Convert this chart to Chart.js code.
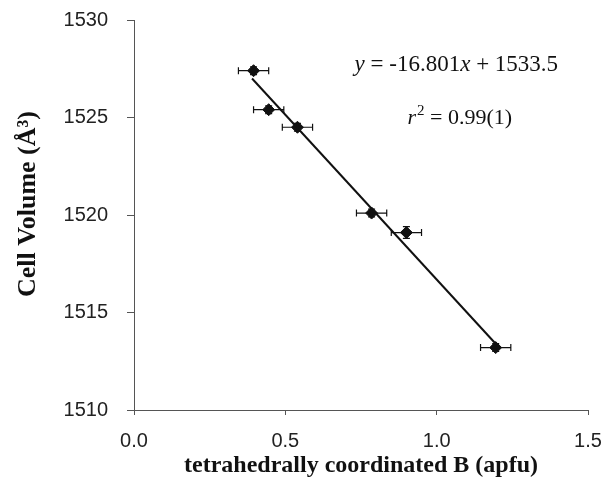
<!DOCTYPE html>
<html>
<head>
<meta charset="utf-8">
<script src="https://cdn.jsdelivr.net/npm/chart.js@4.4.1/dist/chart.umd.min.js"></script>
<style>
  html, body { margin: 0; padding: 0; background: #fff; }
  #wrap { width: 608px; height: 478px; }
</style>
</head>
<body>
<div id="wrap"><canvas id="chart" width="608" height="478"></canvas></div>
<script>
// values
const boronApfu = [0.395, 0.445, 0.54, 0.785, 0.90, 1.195];
const cellVolume = [1527.4, 1525.4, 1524.5, 1520.1, 1519.1, 1513.2];
const boronErr = [0.05, 0.05, 0.05, 0.05, 0.05, 0.05];
const volumeErr = [0.2, 0.2, 0.2, 0.2, 0.3, 0.2];

// regression line ends, as drawn
const fitX = [0.39, 1.195];
const fitY = [1527.0, 1513.4];

const xTicks = [0.0, 0.5, 1.0, 1.5];
const yTicks = [1510, 1515, 1520, 1525, 1530];

const eqText = [["y", true], [" = -16.801", false], ["x", true], [" + 1533.5", false]];

const ink = "#111";
const axisColor = "#555";

const pts = boronApfu.map((x, i) => ({ x: x, y: cellVolume[i] }));
const fitPts = fitX.map((x, i) => ({ x: x, y: fitY[i] }));

// whiskers for both directions
const errorBars = {
    id: "errorBars",
    afterDatasetsDraw(chart) {
        const { ctx, scales: { x, y } } = chart;
        ctx.save();
        ctx.strokeStyle = ink;
        ctx.lineWidth = 1.2;
        pts.forEach((p, i) => {
            const px = x.getPixelForValue(p.x);
            const py = y.getPixelForValue(p.y);
            const x0 = x.getPixelForValue(p.x - boronErr[i]);
            const x1 = x.getPixelForValue(p.x + boronErr[i]);
            const y0 = y.getPixelForValue(p.y - volumeErr[i]);
            const y1 = y.getPixelForValue(p.y + volumeErr[i]);
            ctx.beginPath();
            ctx.moveTo(x0, py); ctx.lineTo(x1, py);
            ctx.moveTo(x0, py - 3.5); ctx.lineTo(x0, py + 3.5);
            ctx.moveTo(x1, py - 3.5); ctx.lineTo(x1, py + 3.5);
            ctx.moveTo(px, y0); ctx.lineTo(px, y1);
            ctx.moveTo(px - 3.5, y0); ctx.lineTo(px + 3.5, y0);
            ctx.moveTo(px - 3.5, y1); ctx.lineTo(px + 3.5, y1);
            ctx.stroke();
        });
        ctx.restore();
    }
};

// fit equation, r squared and the rotated y title
const labels = {
    id: "labels",
    afterDraw(chart) {
        const { ctx, scales: { x, y } } = chart;
        ctx.save();
        ctx.fillStyle = ink;
        ctx.textBaseline = "middle";

        let size = 23;
        const fontOf = it => (it ? "italic " : "") + size + "px 'Liberation Serif'";
        let w = 0;
        eqText.forEach(([t, it]) => { ctx.font = fontOf(it); w += ctx.measureText(t).width; });
        let cx = x.getPixelForValue(1.065) - w / 2;
        const ey = y.getPixelForValue(1527.7);
        eqText.forEach(([t, it]) => {
            ctx.font = fontOf(it);
            ctx.fillText(t, cx, ey);
            cx += ctx.measureText(t).width;
        });

        size = 22;
        const ry = y.getPixelForValue(1524.95);
        ctx.font = fontOf(true);
        const wr = ctx.measureText("r").width;
        ctx.font = "15px 'Liberation Serif'";
        const w2 = ctx.measureText("2").width;
        ctx.font = fontOf(false);
        const wRest = ctx.measureText(" = 0.99(1)").width;
        let rx = x.getPixelForValue(1.075) - (wr + w2 + wRest) / 2;
        ctx.font = fontOf(true);
        ctx.fillText("r", rx, ry);
        rx += wr + 1;
        ctx.font = "15px 'Liberation Serif'";
        ctx.fillText("2", rx, ry - 7);
        rx += w2;
        ctx.font = fontOf(false);
        ctx.fillText(" = 0.99(1)", rx, ry);

        ctx.translate(28, 204);
        ctx.rotate(-Math.PI / 2);
        ctx.textAlign = "center";
        ctx.font = "bold 26px 'Liberation Serif'";
        ctx.fillText("Cell Volume (Å³)", 0, 0);
        ctx.restore();
    }
};

// no label overhang, the plot box comes from the layout padding alone
const noOverhang = s => {
    s.paddingTop = 0;
    s.paddingBottom = 0;
    s.paddingLeft = 0;
    s.paddingRight = 0;
};

new Chart(document.getElementById("chart"), {
    type: "scatter",
    data: {
        datasets: [
            {
                data: pts,
                pointStyle: "rectRot",
                pointRadius: 6,
                backgroundColor: ink,
                borderColor: ink,
                borderWidth: 1,
                order: 0
            },
            {
                type: "line",
                data: fitPts,
                borderColor: ink,
                borderWidth: 2,
                pointRadius: 0,
                fill: false,
                order: 1
            }
        ]
    },
    options: {
        responsive: false,
        animation: false,
        layout: { padding: { top: 20, right: 20, left: 0, bottom: 0 } },
        plugins: {
            legend: { display: false },
            tooltip: { enabled: false }
        },
        scales: {
            x: {
                type: "linear",
                min: 0,
                max: 1.5,
                afterBuildTicks: s => { s.ticks = xTicks.map(v => ({ value: v })); },
                afterFit: s => { s.height = 68; noOverhang(s); },
                ticks: {
                    callback: v => v.toFixed(1),
                    font: { family: "'Liberation Sans'", size: 20 },
                    color: "#222",
                    padding: 14
                },
                grid: { drawOnChartArea: false, tickLength: 5, color: axisColor },
                border: { color: axisColor, width: 1 },
                title: {
                    display: true,
                    text: "tetrahedrally coordinated B (apfu)",
                    font: { family: "'Liberation Serif'", size: 24, weight: "bold", lineHeight: 1 },
                    color: ink,
                    padding: { top: 0, bottom: 0 }
                }
            },
            y: {
                min: 1510,
                max: 1530,
                afterBuildTicks: s => { s.ticks = yTicks.map(v => ({ value: v })); },
                afterFit: s => { s.width = 134; noOverhang(s); },
                ticks: {
                    callback: v => String(v),
                    font: { family: "'Liberation Sans'", size: 20 },
                    color: "#222",
                    padding: 19
                },
                grid: { drawOnChartArea: false, tickLength: 7, color: axisColor },
                border: { color: axisColor, width: 1 }
            }
        }
    },
    plugins: [errorBars, labels]
});
</script>
</body>
</html>
